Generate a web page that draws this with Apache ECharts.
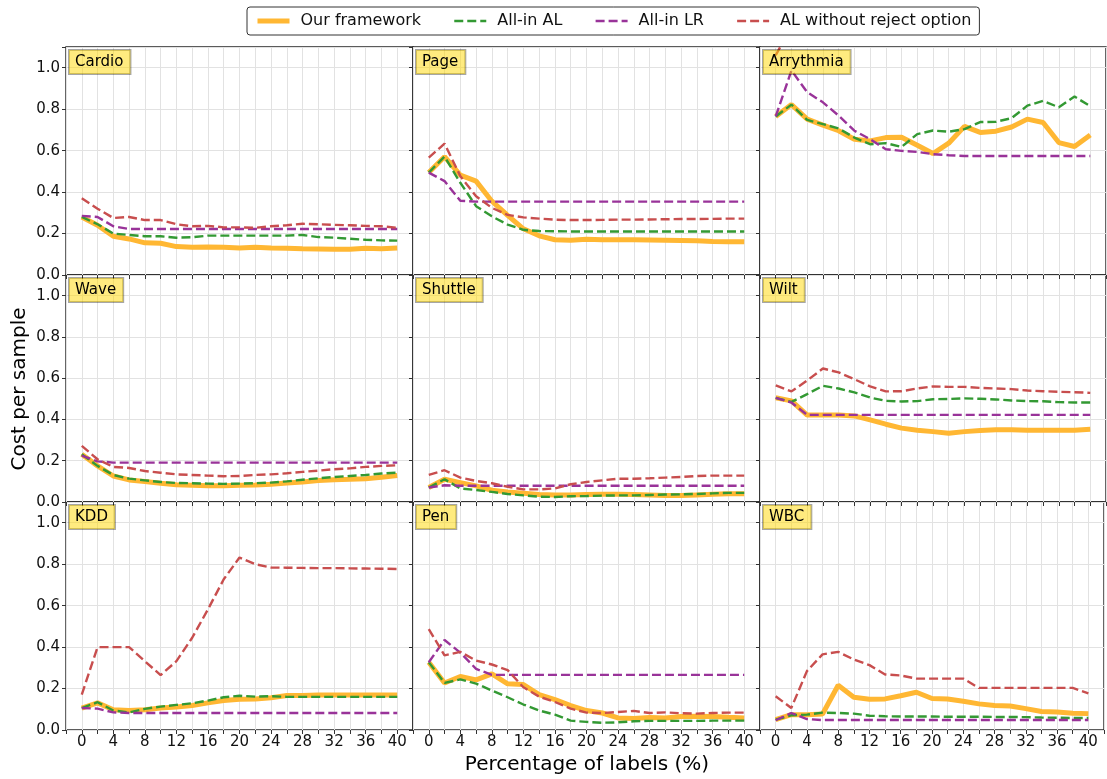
<!DOCTYPE html>
<html>
<head>
<meta charset="utf-8">
<script src="https://cdn.jsdelivr.net/npm/echarts@6/dist/echarts.min.js"></script>
<style>
html,body{margin:0;padding:0;background:#fff;}
#chart{width:1107px;height:779px;}
</style>
</head>
<body>
<div id="chart"></div>
<script>
// ---------- data ----------
const xValues = [0,2,4,6,8,10,12,14,16,18,20,22,24,26,28,30,32,34,36,38,40];
const seriesNames = ['Our framework','All-in AL','All-in LR','AL without reject option'];
const panelNames = ['Cardio','Page','Arrythmia','Wave','Shuttle','Wilt','KDD','Pen','WBC'];
const yTickLabels = ['0.0','0.2','0.4','0.6','0.8','1.0'];

const cardioOurs   = [0.28,0.24,0.187,0.174,0.155,0.153,0.137,0.134,0.135,0.134,0.13,0.134,0.13,0.129,0.127,0.126,0.124,0.124,0.129,0.127,0.13];
const cardioAL     = [0.28,0.245,0.2,0.193,0.187,0.187,0.18,0.182,0.19,0.19,0.19,0.19,0.19,0.19,0.193,0.183,0.18,0.175,0.17,0.167,0.166];
const cardioLR     = [0.285,0.28,0.235,0.222,0.222,0.222,0.222,0.222,0.222,0.222,0.222,0.222,0.222,0.222,0.222,0.222,0.222,0.222,0.222,0.222,0.222];
const cardioNoRej  = [0.37,0.32,0.275,0.28,0.265,0.265,0.245,0.235,0.237,0.23,0.23,0.228,0.235,0.24,0.247,0.245,0.242,0.24,0.237,0.235,0.228];

const pageOurs     = [0.494,0.571,0.482,0.453,0.356,0.288,0.223,0.189,0.17,0.168,0.173,0.17,0.17,0.17,0.169,0.168,0.167,0.165,0.162,0.161,0.16];
const pageAL       = [0.494,0.571,0.445,0.332,0.283,0.243,0.218,0.212,0.211,0.21,0.21,0.21,0.21,0.21,0.21,0.21,0.21,0.21,0.21,0.21,0.21];
const pageLR       = [0.494,0.453,0.358,0.354,0.354,0.354,0.354,0.354,0.354,0.354,0.354,0.354,0.354,0.354,0.354,0.354,0.354,0.354,0.354,0.354,0.354];
const pageNoRej    = [0.566,0.634,0.477,0.38,0.324,0.29,0.278,0.272,0.267,0.265,0.265,0.266,0.267,0.267,0.268,0.269,0.27,0.27,0.271,0.272,0.272];

const arryOurs     = [0.765,0.822,0.752,0.723,0.696,0.655,0.647,0.663,0.665,0.626,0.586,0.636,0.717,0.688,0.694,0.714,0.752,0.736,0.639,0.62,0.675];
const arryAL       = [0.765,0.822,0.748,0.728,0.707,0.663,0.631,0.636,0.618,0.68,0.697,0.691,0.704,0.738,0.739,0.757,0.817,0.84,0.809,0.861,0.814];
const arryLR       = [0.765,0.987,0.882,0.833,0.769,0.696,0.655,0.607,0.599,0.594,0.583,0.578,0.574,0.574,0.574,0.574,0.574,0.574,0.574,0.574,0.574];
const arryNoRej    = [1.06,1.2,1.22,1.24,1.25,1.26,1.25,1.26,1.27,1.26,1.25,1.26,1.27,1.28,1.27,1.28,1.29,1.28,1.29,1.3,1.29];

const waveOurs     = [0.231,0.175,0.126,0.107,0.099,0.091,0.084,0.081,0.079,0.079,0.081,0.082,0.086,0.092,0.097,0.104,0.108,0.11,0.113,0.12,0.128];
const waveAL       = [0.231,0.175,0.131,0.113,0.105,0.097,0.092,0.091,0.089,0.088,0.089,0.091,0.094,0.1,0.108,0.115,0.121,0.126,0.131,0.138,0.142];
const waveLR       = [0.225,0.197,0.191,0.191,0.191,0.191,0.191,0.191,0.191,0.191,0.191,0.191,0.191,0.191,0.191,0.191,0.191,0.191,0.191,0.191,0.191];
const waveNoRej    = [0.272,0.207,0.17,0.165,0.15,0.142,0.134,0.131,0.128,0.125,0.126,0.131,0.134,0.139,0.146,0.152,0.159,0.163,0.17,0.175,0.178];

const shuttleOurs  = [0.07,0.11,0.094,0.078,0.057,0.049,0.042,0.036,0.034,0.034,0.036,0.037,0.037,0.036,0.034,0.032,0.031,0.034,0.037,0.04,0.04];
const shuttleAL    = [0.07,0.11,0.066,0.058,0.049,0.039,0.032,0.026,0.024,0.028,0.029,0.031,0.032,0.032,0.034,0.036,0.037,0.039,0.042,0.044,0.044];
const shuttleLR    = [0.07,0.081,0.079,0.079,0.079,0.079,0.079,0.079,0.079,0.079,0.079,0.079,0.079,0.079,0.079,0.079,0.079,0.079,0.079,0.079,0.079];
const shuttleNoRej = [0.131,0.154,0.118,0.102,0.091,0.074,0.061,0.061,0.066,0.086,0.097,0.105,0.113,0.113,0.115,0.118,0.121,0.126,0.128,0.128,0.128];

const wiltOurs     = [0.505,0.49,0.421,0.422,0.422,0.417,0.398,0.377,0.358,0.348,0.341,0.333,0.341,0.346,0.35,0.35,0.348,0.348,0.348,0.348,0.353];
const wiltAL       = [0.505,0.485,0.523,0.563,0.55,0.531,0.506,0.49,0.487,0.489,0.498,0.499,0.502,0.5,0.497,0.492,0.489,0.488,0.484,0.482,0.482];
const wiltLR       = [0.505,0.482,0.422,0.422,0.422,0.422,0.422,0.422,0.422,0.422,0.422,0.422,0.422,0.422,0.422,0.422,0.422,0.422,0.422,0.422,0.422];
const wiltNoRej    = [0.565,0.536,0.589,0.647,0.628,0.595,0.56,0.536,0.537,0.55,0.56,0.558,0.558,0.553,0.55,0.547,0.54,0.537,0.534,0.532,0.529];

const kddOurs      = [0.106,0.131,0.098,0.094,0.098,0.106,0.111,0.118,0.131,0.142,0.148,0.15,0.156,0.166,0.166,0.169,0.169,0.169,0.169,0.169,0.169];
const kddAL        = [0.106,0.134,0.094,0.085,0.102,0.113,0.121,0.129,0.142,0.158,0.165,0.161,0.163,0.16,0.16,0.16,0.16,0.16,0.16,0.16,0.16];
const kddLR        = [0.106,0.103,0.085,0.082,0.082,0.082,0.082,0.082,0.082,0.082,0.082,0.082,0.082,0.082,0.082,0.082,0.082,0.082,0.082,0.082,0.082];
const kddNoRej     = [0.171,0.4,0.4,0.4,0.332,0.265,0.332,0.445,0.582,0.727,0.832,0.8,0.784,0.783,0.782,0.781,0.781,0.78,0.779,0.778,0.777];

const penOurs      = [0.327,0.227,0.258,0.242,0.271,0.223,0.219,0.171,0.147,0.118,0.094,0.082,0.058,0.056,0.06,0.058,0.065,0.066,0.065,0.061,0.058];
const penAL        = [0.327,0.227,0.244,0.224,0.19,0.158,0.123,0.094,0.074,0.045,0.039,0.035,0.037,0.042,0.044,0.044,0.044,0.044,0.045,0.045,0.045];
const penLR        = [0.327,0.434,0.373,0.295,0.266,0.266,0.266,0.266,0.266,0.266,0.266,0.266,0.266,0.266,0.266,0.266,0.266,0.266,0.266,0.266,0.266];
const penNoRej     = [0.487,0.36,0.377,0.335,0.316,0.289,0.206,0.161,0.135,0.103,0.084,0.082,0.087,0.092,0.082,0.085,0.081,0.079,0.082,0.084,0.084];

const wbcOurs      = [0.05,0.074,0.074,0.077,0.216,0.158,0.148,0.15,0.165,0.182,0.152,0.15,0.139,0.126,0.118,0.116,0.103,0.089,0.087,0.081,0.079];
const wbcAL        = [0.05,0.071,0.074,0.084,0.082,0.079,0.069,0.066,0.065,0.065,0.065,0.064,0.064,0.064,0.063,0.063,0.062,0.06,0.059,0.058,0.058];
const wbcLR        = [0.047,0.082,0.053,0.048,0.048,0.048,0.048,0.048,0.048,0.048,0.048,0.048,0.048,0.048,0.048,0.048,0.048,0.048,0.048,0.048,0.048];
const wbcNoRej     = [0.163,0.106,0.284,0.365,0.377,0.34,0.313,0.268,0.263,0.248,0.248,0.248,0.248,0.203,0.203,0.203,0.203,0.203,0.203,0.203,0.177];

const panelData = [
  [cardioOurs, cardioAL, cardioLR, cardioNoRej],
  [pageOurs, pageAL, pageLR, pageNoRej],
  [arryOurs, arryAL, arryLR, arryNoRej],
  [waveOurs, waveAL, waveLR, waveNoRej],
  [shuttleOurs, shuttleAL, shuttleLR, shuttleNoRej],
  [wiltOurs, wiltAL, wiltLR, wiltNoRej],
  [kddOurs, kddAL, kddLR, kddNoRej],
  [penOurs, penAL, penLR, penNoRej],
  [wbcOurs, wbcAL, wbcLR, wbcNoRej]
];

// ---------- layout & style ----------
const FONT = 'DejaVu Sans';
const colLefts = [66, 413, 760];
const colWidths = [347, 347, 346];
const rowTops = [47, 275, 502];
const rowHeights = [228, 227, 228];
const lineStyles = [
  {color:'#FFB733', width:5, type:'solid'},
  {color:'#339933', width:2.4, type:[9,4]},
  {color:'#993399', width:2.4, type:[9,4]},
  {color:'#C84E4E', width:2.4, type:[9,4]}
];

const grids = [], xAxes = [], yAxes = [], series = [], graphics = [];
for (let p = 0; p < 9; p++) {
  const r = Math.floor(p / 3), c = p % 3;
  grids.push({
    left: colLefts[c], top: rowTops[r], width: colWidths[c], height: rowHeights[r],
    show: true, borderColor: '#262626', borderWidth: 1.4, backgroundColor: 'transparent'
  });
  xAxes.push({
    type: 'value', gridIndex: p, min: -2, max: 42, interval: 2,
    axisLine: {show: false, onZero: false},
    axisTick: {show: true, length: 4, lineStyle: {color: '#333'}},
    axisLabel: {
      show: r === 2, fontFamily: FONT, fontSize: 15, color: '#111', margin: 5,
      formatter: v => (v >= 0 && v <= 40 && v % 4 === 0) ? String(v) : ''
    },
    splitLine: {show: true, lineStyle: {color: '#e2e2e2', width: 1}}
  });
  yAxes.push({
    type: 'value', gridIndex: p, min: 0, max: 1.1, interval: 0.2,
    axisLine: {show: false, onZero: false},
    axisTick: {show: true, length: 4, lineStyle: {color: '#333'}},
    axisLabel: {
      show: c === 0, fontFamily: FONT, fontSize: 15, color: '#111', margin: 6,
      formatter: v => { const i = Math.round(v / 0.2); return (Math.abs(v - i*0.2) < 1e-6 && i < yTickLabels.length) ? yTickLabels[i] : ''; }
    },
    splitLine: {show: true, lineStyle: {color: '#e2e2e2', width: 1}}
  });
  for (let s = 0; s < 4; s++) {
    const arr = panelData[p][s];
    series.push({
      name: seriesNames[s], type: 'line', xAxisIndex: p, yAxisIndex: p,
      data: xValues.map((x, i) => [x, arr[i]]),
      showSymbol: false, symbol: 'none', clip: true, animation: false,
      lineStyle: lineStyles[s], itemStyle: {color: lineStyles[s].color},
      z: 2 + s
    });
  }
  graphics.push({
    type: 'text', left: colLefts[c] + 2, top: rowTops[r] + 2, z: 50,
    style: {
      text: panelNames[p], font: '15px "' + FONT + '"', fill: '#000',
      backgroundColor: 'rgba(255,215,0,0.5)', borderColor: 'rgba(0,0,0,0.35)', borderWidth: 1,
      padding: [5, 7, 4, 6]
    }
  });
}
graphics.push({
  type: 'text', x: 20, y: 389, rotation: Math.PI / 2, z: 50,
  style: {text: 'Cost per sample', font: '20px "' + FONT + '"', fill: '#000', align: 'center', verticalAlign: 'middle'}
});
graphics.push({
  type: 'text', x: 587, y: 765, z: 50,
  style: {text: 'Percentage of labels (%)', font: '20px "' + FONT + '"', fill: '#000', align: 'center', verticalAlign: 'middle'}
});

const chart = echarts.init(document.getElementById('chart'), null, {renderer: 'canvas'});
chart.setOption({
  animation: false,
  backgroundColor: '#fff',
  legend: {
    data: seriesNames.map((n, i) => ({
      name: n,
      lineStyle: {color: lineStyles[i].color, width: lineStyles[i].width, type: lineStyles[i].type}
    })),
    top: 7, left: 247,
    itemWidth: 32, itemHeight: 12, itemGap: 32,
    padding: [6, 8, 6, 8],
    itemStyle: {opacity: 0},
    borderColor: '#333', borderWidth: 1, borderRadius: 3,
    textStyle: {fontFamily: FONT, fontSize: 16, color: '#111', padding: [0, 0, 0, 6]}
  },
  grid: grids, xAxis: xAxes, yAxis: yAxes, series: series, graphic: graphics
});
</script>
</body>
</html>
